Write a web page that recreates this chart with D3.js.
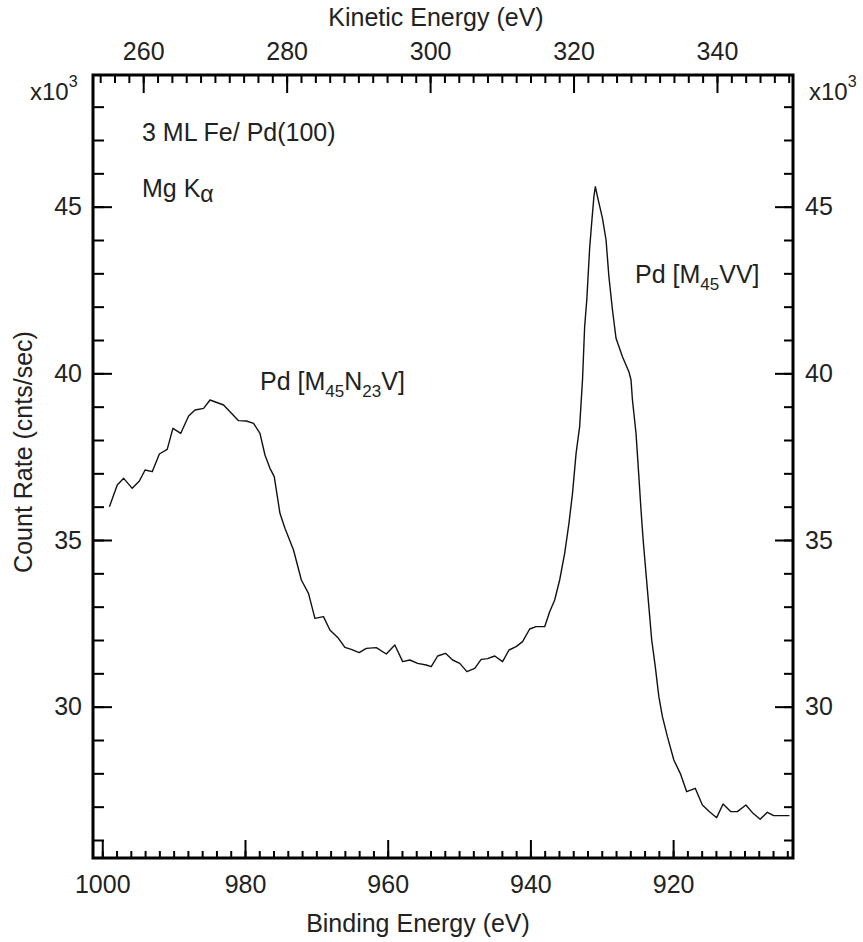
<!DOCTYPE html>
<html>
<head>
<meta charset="utf-8">
<script src="https://cdn.jsdelivr.net/npm/d3@7"></script>
<style>
  html, body { margin: 0; padding: 0; background: #fff; }
  svg { display: block; }
  text { font-family: "Liberation Sans", Arial, sans-serif; fill: #222; }
</style>
</head>
<body>
<svg id="chart" width="863" height="942"></svg>
<script>
// Binding energy (eV)
const bindingEnergy = [
  999.0, 997.9, 997.0, 995.8, 994.8, 994.0, 993.0, 992.0, 990.9, 990.1,
  989.0, 987.9, 987.0, 985.8, 984.9, 983.0, 980.9, 979.8, 978.8, 977.9,
  977.2, 976.5, 975.9, 975.1, 974.4, 973.2, 972.1, 971.1, 970.2, 969.0,
  968.1, 966.9, 966.0, 965.1, 964.0, 963.0, 961.6, 960.2, 959.0, 957.9,
  956.9, 955.8, 954.6, 953.9, 953.0, 951.9, 950.9, 949.9, 948.9, 947.8,
  946.9, 946.0, 945.0, 943.9, 943.0, 942.0, 941.1, 940.1, 939.2, 938.0,
  937.3, 936.6, 935.9, 935.2, 934.6, 934.1, 933.6, 933.1, 932.7, 932.4,
  932.1, 931.7, 931.4, 931.1, 930.9, 930.6, 929.9, 929.4, 929.0, 928.5,
  928.0, 927.1, 926.2, 925.9, 925.7, 925.2, 924.8, 924.5, 924.2, 923.8,
  923.4, 923.0, 922.5, 922.0, 921.5, 920.8, 919.9, 919.0, 918.1, 916.9,
  915.9, 914.9, 913.9, 913.0, 911.9, 911.0, 909.8, 908.8, 907.8, 906.8,
  905.9, 903.7
];
// Count rate (x10^3 cnts/sec)
const countRate = [
  36.0, 36.65, 36.85, 36.55, 36.77, 37.1, 37.05, 37.58, 37.72, 38.35,
  38.2, 38.72, 38.9, 38.95, 39.2, 39.05, 38.58, 38.57, 38.5, 38.2,
  37.55, 37.15, 36.9, 35.8, 35.35, 34.7, 33.8, 33.4, 32.65, 32.7,
  32.3, 32.05, 31.78, 31.72, 31.62, 31.75, 31.77, 31.58, 31.85, 31.35,
  31.4, 31.3, 31.25, 31.2, 31.52, 31.6, 31.4, 31.3, 31.05, 31.15,
  31.42, 31.44, 31.52, 31.35, 31.7, 31.8, 31.95, 32.33, 32.4, 32.4,
  32.85, 33.2, 33.8, 34.6, 35.5, 36.4, 37.6, 38.4, 39.8, 41.4,
  42.2, 43.75, 44.55, 45.3, 45.6, 45.3, 44.65, 44.0, 42.9, 41.9,
  41.05, 40.5, 40.05, 39.8, 39.2, 38.2, 36.9, 35.9, 35.0, 34.0,
  33.0, 32.0, 31.2, 30.3, 29.7, 29.1, 28.4, 28.0, 27.45, 27.55,
  27.05, 26.85, 26.67, 27.08, 26.85, 26.85, 27.05, 26.8, 26.62, 26.83,
  26.73, 26.73
];
const bottomTicks = [1000, 980, 960, 940, 920];
const topTicks = [260, 280, 300, 320, 340];
const yTicks = [30, 35, 40, 45];
const bottomMinor = d3.range(1000, 903, -2);
const topMinor = d3.range(254, 351, 2);
const yMinor = d3.range(26, 49, 1);

const L = 93, R = 793, T = 75, B = 858;
const x = d3.scaleLinear().domain([1001.3, 903.2]).range([L, R]);
const xTop = d3.scaleLinear().domain([253.0, 350.6]).range([L, R]);
const y = d3.scaleLinear().domain([25.46, 48.95]).range([B, T]);

const svg = d3.select("#chart");
svg.append("rect").attr("width", 863).attr("height", 942).attr("fill", "#fff");

const FS = 25;
function styleAxis(g, anchor) {
  g.select(".domain").remove();
  g.selectAll(".tick line").attr("stroke", "#000").attr("stroke-width", 2);
  g.selectAll(".tick text").attr("font-size", FS).attr("fill", "#222")
   .attr("font-family", '"Liberation Sans", Arial, sans-serif');
  if (anchor) g.selectAll(".tick text").attr("text-anchor", anchor);
}

// minor ticks
svg.append("g").attr("transform", `translate(0,${B})`)
  .call(d3.axisBottom(x).tickValues(bottomMinor).tickSize(-7).tickFormat(""))
  .call(g => styleAxis(g));
svg.append("g").attr("transform", `translate(0,${T})`)
  .call(d3.axisTop(xTop).tickValues(topMinor).tickSize(-8).tickFormat(""))
  .call(g => styleAxis(g));
svg.append("g").attr("transform", `translate(${L},0)`)
  .call(d3.axisLeft(y).tickValues(yMinor).tickSize(-11).tickFormat(""))
  .call(g => styleAxis(g));
svg.append("g").attr("transform", `translate(${R},0)`)
  .call(d3.axisRight(y).tickValues(yMinor).tickSize(-9).tickFormat(""))
  .call(g => styleAxis(g));

// major ticks + labels
svg.append("g").attr("transform", `translate(0,${B})`)
  .call(d3.axisBottom(x).tickValues(bottomTicks).tickSize(-18).tickPadding(17).tickFormat(d3.format("d")))
  .call(g => styleAxis(g));
svg.append("g").attr("transform", `translate(0,${T})`)
  .call(d3.axisTop(xTop).tickValues(topTicks).tickSize(-18).tickPadding(15).tickFormat(d3.format("d")))
  .call(g => styleAxis(g));
svg.append("g").attr("transform", `translate(${L},0)`)
  .call(d3.axisLeft(y).tickValues(yTicks).tickSize(-19).tickPadding(11).tickFormat(d3.format("d")))
  .call(g => styleAxis(g));
svg.append("g").attr("transform", `translate(${R},0)`)
  .call(d3.axisRight(y).tickValues(yTicks).tickSize(-18).tickPadding(12).tickFormat(d3.format("d")))
  .call(g => styleAxis(g));

// frame
svg.append("rect").attr("x", L).attr("y", T).attr("width", R - L).attr("height", B - T)
  .attr("fill", "none").attr("stroke", "#000").attr("stroke-width", 3);

// data line
const pts = bindingEnergy.map((b, i) => [b, countRate[i]]);
svg.append("path").datum(pts)
  .attr("fill", "none").attr("stroke", "#111").attr("stroke-width", 1.4)
  .attr("stroke-linejoin", "round")
  .attr("d", d3.line().x(d => x(d[0])).y(d => y(d[1])));

// axis titles
svg.append("text").attr("x", 436).attr("y", 26).attr("text-anchor", "middle")
  .attr("font-size", FS).text("Kinetic Energy (eV)");
svg.append("text").attr("x", 418).attr("y", 932).attr("text-anchor", "middle")
  .attr("font-size", FS).text("Binding Energy (eV)");
svg.append("text").attr("transform", "translate(32,452) rotate(-90)").attr("text-anchor", "middle")
  .attr("font-size", FS).text("Count Rate (cnts/sec)");

// x10^3 multipliers
function mult(xp) {
  const t = svg.append("text").attr("x", xp).attr("y", 100).attr("font-size", 24);
  t.append("tspan").text("x10");
  t.append("tspan").attr("font-size", 16).attr("dy", -13).text("3");
}
mult(30);
mult(809);

// annotations
svg.append("text").attr("x", 142).attr("y", 141).attr("font-size", FS).text("3 ML Fe/ Pd(100)");
const mg = svg.append("text").attr("x", 142).attr("y", 197).attr("font-size", FS);
mg.append("tspan").text("Mg K");
mg.append("tspan").attr("font-size", 23).attr("dy", 5).text("α");

const a1 = svg.append("text").attr("x", 260).attr("y", 390).attr("font-size", FS);
a1.append("tspan").text("Pd [M");
a1.append("tspan").attr("font-size", 17).attr("dy", 7).text("45");
a1.append("tspan").attr("dy", -7).text("N");
a1.append("tspan").attr("font-size", 17).attr("dy", 7).text("23");
a1.append("tspan").attr("dy", -7).text("V]");

const a2 = svg.append("text").attr("x", 635).attr("y", 283).attr("font-size", FS);
a2.append("tspan").text("Pd [M");
a2.append("tspan").attr("font-size", 17).attr("dy", 7).text("45");
a2.append("tspan").attr("dy", -7).text("VV]");
</script>
</body>
</html>
